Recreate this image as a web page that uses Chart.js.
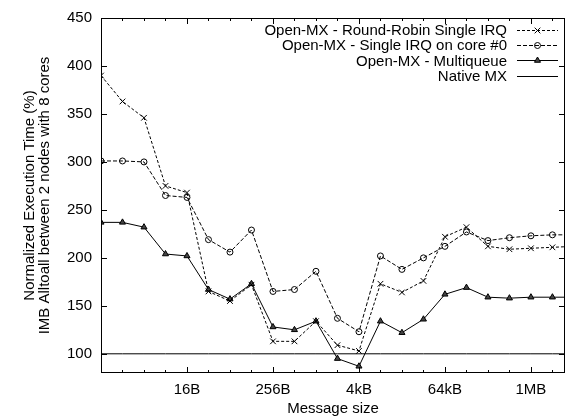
<!DOCTYPE html>
<html>
<head>
<meta charset="utf-8">
<script src="https://cdn.jsdelivr.net/npm/chart.js@4/dist/chart.umd.min.js"></script>
<style>
  html, body { margin: 0; padding: 0; background: #fff; }
  #wrap { width: 570px; height: 418px; }
</style>
</head>
<body>
<div id="wrap"><canvas id="chart" width="570" height="418"></canvas></div>
<script>
// message sizes in bytes, 1B .. 4MB
const sizes = [1, 2, 4, 8, 16, 32, 64, 128, 256, 512, 1024, 2048, 4096, 8192, 16384,
    32768, 65536, 131072, 262144, 524288, 1048576, 2097152, 4194304];

const roundRobin = [390, 363, 346, 275, 268, 165, 155, 172, 113, 113, 134, 109, 103,
    173, 164, 176, 222, 232, 212, 209, 210, 211, 212];
const singleCore0 = [301, 301, 300, 265, 263, 219, 206, 229, 165, 167, 186, 137, 123,
    202, 188, 200, 212, 227, 218, 221, 223, 224, 224];
const multiqueue = [237, 237, 232, 204, 202, 167, 157, 173, 128, 125, 134, 95, 87,
    134, 122, 136, 162, 169, 159, 158, 159, 159, 159];
const nativeMx = [100, 100, 100, 100, 100, 100, 100, 100, 100, 100, 100, 100, 100,
    100, 100, 100, 100, 100, 100, 100, 100, 100, 100];

const seriesNames = ['Open-MX - Round-Robin Single IRQ', 'Open-MX - Single IRQ on core #0',
    'Open-MX - Multiqueue', 'Native MX'];

const xTickValues = [16, 256, 4096, 65536, 1048576];
const xTickLabels = ['16B', '256B', '4kB', '64kB', '1MB'];
const yTickValues = [100, 150, 200, 250, 300, 350, 400, 450];

const xMax = 3145728;
const FONT = '"Liberation Sans", Arial, Helvetica, sans-serif';

function toPoints(values) {
    return values.map((v, i) => ({ x: sizes[i], y: v }));
}

// gnuplot style frame with inward ticks and a right aligned legend
const gnuplotFrame = {
    id: 'gnuplotFrame',
    afterDatasetsDraw(chart) {
        const ctx = chart.ctx;
        const area = chart.chartArea;
        const xs = chart.scales.x;
        const ys = chart.scales.y;

        ctx.save();
        ctx.strokeStyle = '#000';
        ctx.lineWidth = 1;
        ctx.setLineDash([]);
        ctx.strokeRect(area.left + 0.5, area.top + 0.5, area.right - area.left - 1, area.bottom - area.top - 1);

        ctx.beginPath();
        sizes.forEach(v => {
            if (v > xMax) return;
            const px = Math.round(xs.getPixelForValue(v)) + 0.5;
            const len = xTickValues.includes(v) ? 6 : 3;
            ctx.moveTo(px, area.bottom);
            ctx.lineTo(px, area.bottom - len);
            ctx.moveTo(px, area.top);
            ctx.lineTo(px, area.top + len);
        });
        yTickValues.forEach(v => {
            const py = Math.round(ys.getPixelForValue(v)) + 0.5;
            ctx.moveTo(area.left, py);
            ctx.lineTo(area.left + 6, py);
            ctx.moveTo(area.right, py);
            ctx.lineTo(area.right - 6, py);
        });
        ctx.stroke();

        // legend
        ctx.font = '15px ' + FONT;
        ctx.fillStyle = '#000';
        ctx.textAlign = 'right';
        ctx.textBaseline = 'middle';
        chart.data.datasets.forEach((ds, i) => {
            const y = 30 + i * 15.2;
            ctx.fillText(ds.label, 507, y + 1);
            ctx.beginPath();
            ctx.setLineDash(ds.borderDash || []);
            ctx.moveTo(517, Math.round(y) + 0.5);
            ctx.lineTo(558, Math.round(y) + 0.5);
            ctx.stroke();
            ctx.setLineDash([]);
            if (ds.pointRadius > 0) {
                ctx.fillStyle = ds.pointBackgroundColor;
                Chart.helpers.drawPoint(ctx, {
                    pointStyle: ds.pointStyle,
                    radius: ds.pointRadius,
                    rotation: 0,
                    borderWidth: 1
                }, 537.5, Math.round(y) + 0.5);
                ctx.fillStyle = '#000';
            }
        });
        ctx.restore();
    }
};

const chart = new Chart(document.getElementById('chart'), {
    type: 'line',
    data: {
        datasets: [
            {
                label: seriesNames[0],
                data: toPoints(roundRobin),
                borderColor: '#000',
                borderWidth: 1,
                borderDash: [3, 2],
                pointStyle: 'crossRot',
                pointRadius: 4,
                pointBorderColor: '#000',
                pointBackgroundColor: 'rgba(0,0,0,0)',
                pointBorderWidth: 1
            },
            {
                label: seriesNames[1],
                data: toPoints(singleCore0),
                borderColor: '#000',
                borderWidth: 1,
                borderDash: [4, 2],
                pointStyle: 'circle',
                pointRadius: 3,
                pointBorderColor: '#000',
                pointBackgroundColor: 'rgba(0,0,0,0)',
                pointBorderWidth: 1
            },
            {
                label: seriesNames[2],
                data: toPoints(multiqueue),
                borderColor: '#000',
                borderWidth: 1,
                pointStyle: 'triangle',
                pointRadius: 3.5,
                pointBorderColor: '#000',
                pointBackgroundColor: '#444',
                pointBorderWidth: 1
            },
            {
                label: seriesNames[3],
                data: toPoints(nativeMx),
                borderColor: '#000',
                borderWidth: 1,
                pointRadius: 0
            }
        ]
    },
    options: {
        responsive: false,
        animation: false,
        layout: { padding: { top: 17, right: 2, left: 0, bottom: 0 } },
        plugins: {
            legend: { display: false },
            tooltip: { enabled: false }
        },
        elements: { line: { tension: 0 } },
        scales: {
            x: {
                type: 'logarithmic',
                min: 1,
                max: xMax,
                afterBuildTicks: function(scale) {
                    scale.ticks = sizes.filter(v => v <= xMax).map(v => ({ value: v }));
                },
                afterFit: function(scale) {
                    scale.height = 45;
                },
                grid: { display: false, drawTicks: false },
                border: { display: false },
                ticks: {
                    autoSkip: false,
                    maxRotation: 0,
                    padding: 8,
                    color: '#000',
                    font: { family: FONT, size: 15 },
                    callback: function(value) {
                        const idx = xTickValues.indexOf(value);
                        return idx >= 0 ? xTickLabels[idx] : '';
                    }
                },
                title: {
                    display: true,
                    text: 'Message size',
                    color: '#000',
                    font: { family: FONT, size: 15 },
                    padding: { top: 2, bottom: 0 }
                }
            },
            y: {
                min: 80,
                max: 450,
                afterBuildTicks: function(scale) {
                    scale.ticks = yTickValues.map(v => ({ value: v }));
                },
                afterFit: function(scale) {
                    scale.width = 101;
                },
                grid: { display: false, drawTicks: false },
                border: { display: false },
                ticks: {
                    padding: 9,
                    color: '#000',
                    font: { family: FONT, size: 15 }
                },
                title: {
                    display: true,
                    text: ['Normalized Execution Time (%)', 'IMB Alltoall between 2 nodes with 8 cores'],
                    color: '#000',
                    font: { family: FONT, size: 15, lineHeight: 1.0 },
                    padding: { top: 22, bottom: 0 }
                }
            }
        }
    },
    plugins: [gnuplotFrame]
});
</script>
</body>
</html>
